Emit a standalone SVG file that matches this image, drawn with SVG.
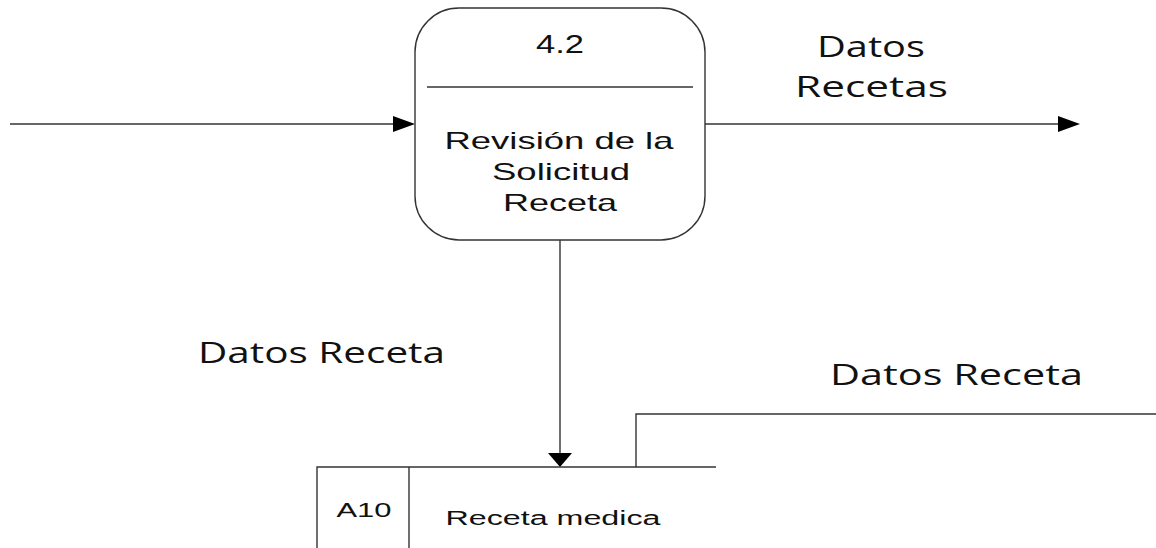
<svg xmlns="http://www.w3.org/2000/svg" width="1156" height="548" viewBox="0 0 1156 548">
<style>
.ln{fill:none;stroke:#333;stroke-width:1.4}
.nt{font-family:"Liberation Sans",Arial,sans-serif;fill:#111;text-anchor:middle}
.lb{font-family:"Open Sans","DejaVu Sans",sans-serif;fill:#111;font-size:29px}
.ah{fill:#000}
</style>
<rect width="1156" height="548" fill="#fff"/>
<g id="connectors">
<line class="ln" x1="10" y1="124" x2="395" y2="124"/>
<polygon class="ah" points="393,116 415,124 393,132"/>
<line class="ln" x1="705" y1="124" x2="1060" y2="124"/>
<polygon class="ah" points="1058,116 1080,124 1058,132"/>
<line class="ln" x1="560" y1="240" x2="560" y2="455"/>
<polygon class="ah" points="548,453 572,453 560,467"/>
<polyline class="ln" points="636,467 636,414 1156,414"/>
</g>
<g id="process-4-2">
<rect class="ln" x="415" y="8" width="290" height="232" rx="44" ry="44"/>
<line class="ln" x1="427" y1="87" x2="693" y2="87"/>
<text class="nt" x="560" y="53" font-size="25" textLength="48" lengthAdjust="spacingAndGlyphs">4.2</text>
<text class="nt" x="559" y="149" font-size="24" textLength="229" lengthAdjust="spacingAndGlyphs">Revisión de la</text>
<text class="nt" x="561" y="180" font-size="24" textLength="138" lengthAdjust="spacingAndGlyphs">Solicitud</text>
<text class="nt" x="560" y="211" font-size="24" textLength="114" lengthAdjust="spacingAndGlyphs">Receta</text>
</g>
<g id="store-a10">
<polyline class="ln" points="317,548 317,467 716,467"/>
<line class="ln" x1="409" y1="467" x2="409" y2="548"/>
<text class="nt" x="364" y="517" font-size="20" textLength="55" lengthAdjust="spacingAndGlyphs">A10</text>
<text class="nt" x="553" y="525" font-size="20" textLength="215" lengthAdjust="spacingAndGlyphs">Receta medica</text>
</g>
<g id="labels">
<text class="lb" x="817" y="57" textLength="108" lengthAdjust="spacingAndGlyphs">Datos</text>
<text class="lb" x="795" y="97" textLength="153" lengthAdjust="spacingAndGlyphs">Recetas</text>
<text class="lb" x="198" y="363" textLength="247" lengthAdjust="spacingAndGlyphs">Datos Receta</text>
<text class="lb" x="830" y="385" textLength="253" lengthAdjust="spacingAndGlyphs">Datos Receta</text>
</g>
</svg>
